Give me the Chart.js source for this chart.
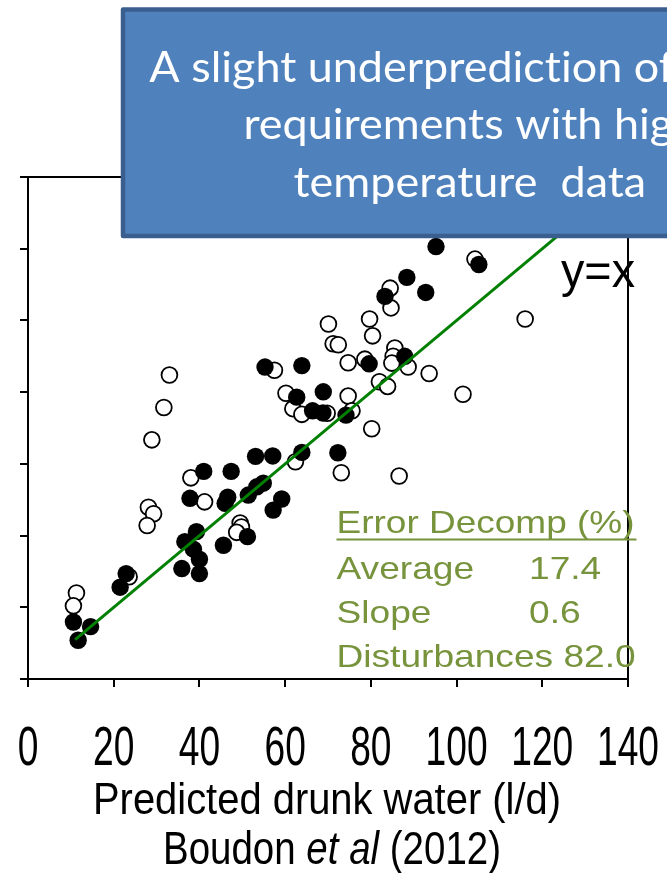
<!DOCTYPE html>
<html>
<head>
<meta charset="utf-8">
<script src="https://cdn.jsdelivr.net/npm/chart.js@4.4.0/dist/chart.umd.min.js"></script>
<style>
  html, body { margin: 0; padding: 0; background: #ffffff; }
  #wrap { width: 667px; height: 873px; position: relative; overflow: hidden; }
  canvas { display: block; }
</style>
</head>
<body>
<div id="wrap"><canvas id="chart" width="667" height="873"></canvas></div>
<script>
// Axis ticks (drunk water, l/d)
const xTicks = [0, 20, 40, 60, 80, 100, 120, 140];
const yTicks = [0, 20, 40, 60, 80, 100, 120, 140];

// Predicted (x) vs observed (y) drunk water, filled markers
const filledX = [11.7, 10.6, 14.6, 21.5, 22.9, 35.9, 40.0, 40.0, 36.6, 39.3, 38.6, 45.6, 51.2, 37.8,
                 46.6, 46.0, 41.0, 47.4, 51.4, 53.1, 53.4, 57.1, 54.9, 57.2, 59.2, 63.9, 72.3, 55.3,
                 63.9, 62.7, 68.9, 66.4, 68.8, 74.2, 79.6, 87.9, 83.3, 88.4, 92.8, 95.2, 105.2];
const filledY = [10.8, 15.9, 14.6, 25.6, 29.4, 30.8, 29.4, 33.4, 38.3, 41.1, 36.2, 37.3, 39.7, 50.4,
                 50.7, 49.0, 57.9, 57.9, 51.3, 62.1, 53.6, 62.2, 54.6, 47.1, 50.2, 63.2, 63.1, 87.0,
                 87.4, 78.6, 80.1, 74.8, 74.2, 73.6, 87.9, 90.0, 106.7, 112.0, 107.8, 120.6, 115.6];

// Predicted (x) vs observed (y) drunk water, open markers
const openX = [11.3, 10.6, 23.6, 28.1, 29.3, 27.8, 28.9, 38.0, 41.2, 49.5, 49.8, 48.7, 62.4, 73.1,
               86.6, 70.1, 71.2, 72.4, 33.0, 31.7, 57.5, 60.2, 61.8, 63.9, 69.8, 74.7, 78.6, 79.7,
               80.4, 84.5, 84.7, 85.6, 85.2, 84.9, 88.7, 93.6, 101.5, 82.0, 83.9, 74.7, 75.6, 80.2,
               104.3, 116.0];
const openY = [24.0, 20.4, 28.5, 47.9, 46.1, 42.8, 66.7, 56.1, 49.4, 43.5, 42.4, 40.9, 60.6, 57.5,
               56.6, 99.0, 93.5, 93.2, 84.8, 75.7, 86.1, 79.7, 75.4, 73.8, 74.1, 88.2, 89.2, 100.4,
               95.7, 109.0, 103.5, 92.3, 90.0, 88.1, 87.0, 85.2, 79.4, 82.9, 81.6, 78.9, 74.8, 69.8,
               117.1, 100.4];

// End points of the y = x reference line
const lineX = [11, 130];
const lineY = [11, 130];

// Error decomposition (%)
const decompLabels = ['Average', 'Slope', 'Disturbances'];
const decompValues = ['17.4', '0.6', '82.0'];

const FONT_NARROW = '"Liberation Sans Narrow", "Arial Narrow", "Liberation Sans", Arial, sans-serif';
const FONT_SANS = '"Liberation Sans", Arial, sans-serif';
const FONT_BOX = 'Lato, Carlito, Calibri, "Open Sans", sans-serif';
const OLIVE = '#77933c';

const toPoints = (xs, ys) => xs.map((x, i) => ({ x: x, y: ys[i] }));

// Draws a run of text pieces, squeezed or stretched horizontally
// to a target width (or by a given factor).
function drawRun(ctx, parts, x, y, color, align, width, factor) {
  ctx.save();
  if ('textRendering' in ctx) ctx.textRendering = 'optimizeSpeed';
  let total = 0;
  for (const p of parts) { ctx.font = p.font; p.w = ctx.measureText(p.text).width; total += p.w; }
  const sx = width ? width / total : (factor || 1);
  const w = total * sx;
  const start = align === 'center' ? x - w / 2 : (align === 'right' ? x - w : x);
  ctx.translate(start, y);
  ctx.scale(sx, 1);
  ctx.fillStyle = color;
  ctx.textAlign = 'left';
  ctx.textBaseline = 'alphabetic';
  let cx = 0;
  for (const p of parts) { ctx.font = p.font; ctx.fillText(p.text, cx, 0); cx += p.w; }
  ctx.restore();
  return w;
}

const framePlugin = {
  id: 'frame',
  beforeDatasetsDraw(chart) {
    const { ctx, chartArea: a } = chart;
    ctx.save();
    ctx.strokeStyle = '#000';
    ctx.lineWidth = 2;
    ctx.beginPath();
    ctx.moveTo(a.left, a.top);
    ctx.lineTo(a.right, a.top);
    ctx.lineTo(a.right, a.bottom);
    ctx.stroke();
    ctx.restore();
  }
};

const textPlugin = {
  id: 'texts',
  afterDraw(chart) {
    const ctx = chart.ctx;
    const xs = chart.scales.x;

    // x tick labels
    const tickFont = '55px ' + FONT_NARROW;
    ctx.font = tickFont;
    const tickFactor = 62 / ctx.measureText('140').width;
    xs.ticks.forEach(t => {
      drawRun(ctx, [{ text: String(t.value), font: tickFont }], xs.getPixelForValue(t.value), 765, '#000', 'center', null, tickFactor);
    });

    // axis title
    const cx = (chart.chartArea.left + chart.chartArea.right) / 2;
    drawRun(ctx, [{ text: 'Predicted drunk water (l/d)', font: '45px ' + FONT_NARROW }], cx - 1, 814, '#000', 'center', 468);
    drawRun(ctx, [
      { text: 'Boudon ', font: '47px ' + FONT_NARROW },
      { text: 'et al', font: 'italic 47px ' + FONT_NARROW },
      { text: ' (2012)', font: '47px ' + FONT_NARROW }
    ], cx + 4, 864, '#000', 'center', 338);

    // y = x label
    drawRun(ctx, [{ text: 'y=x', font: '48px ' + FONT_NARROW }], 561, 287, '#000', 'left', 74);

    // error decomposition
    const dFont = '32px ' + FONT_SANS;
    const dx = 336.5, valX = 529;
    const hw = drawRun(ctx, [{ text: 'Error Decomp (%)', font: dFont }], dx, 533, OLIVE, 'left', 298);
    ctx.save();
    ctx.strokeStyle = OLIVE;
    ctx.lineWidth = 2;
    ctx.beginPath();
    ctx.moveTo(dx, 539.5);
    ctx.lineTo(dx + hw + 2, 539.5);
    ctx.stroke();
    ctx.restore();
    const f = 1.16;
    drawRun(ctx, [{ text: decompLabels[0], font: dFont }], dx, 579, OLIVE, 'left', null, f);
    drawRun(ctx, [{ text: decompValues[0], font: dFont }], valX, 579, OLIVE, 'left', null, f);
    drawRun(ctx, [{ text: decompLabels[1], font: dFont }], dx, 623, OLIVE, 'left', null, f);
    drawRun(ctx, [{ text: decompValues[1], font: dFont }], valX, 623, OLIVE, 'left', null, f);
    drawRun(ctx, [{ text: decompLabels[2] + ' ' + decompValues[2], font: dFont }], dx, 667, OLIVE, 'left', null, f);

    // call-out box
    ctx.save();
    ctx.fillStyle = '#4f81bd';
    ctx.strokeStyle = '#3a5f8e';
    ctx.lineWidth = 4.5;
    ctx.lineJoin = 'round';
    ctx.beginPath();
    ctx.rect(123, 9.5, 700, 226.5);
    ctx.fill();
    ctx.stroke();
    ctx.restore();

    const bFont = '42px ' + FONT_BOX;
    ctx.font = bFont;
    const boxFactor = 352.5 / ctx.measureText('temperature  data').width;
    drawRun(ctx, [{ text: 'A slight underprediction of', font: bFont }], 149.3, 82, '#ffffff', 'left', null, boxFactor);
    drawRun(ctx, [{ text: 'requirements with high', font: bFont }], 243.4, 138.5, '#ffffff', 'left', null, boxFactor);
    drawRun(ctx, [{ text: 'temperature  data', font: bFont }], 293.6, 196.5, '#ffffff', 'left', null, boxFactor);
  }
};

const axisCommon = {
  type: 'linear',
  min: 0,
  max: 140,
  ticks: { display: false, stepSize: 20 },
  grid: { display: true, drawOnChartArea: false, drawTicks: true, tickLength: 8, color: '#000', lineWidth: 2 },
  border: { display: true, color: '#000', width: 2 }
};

new Chart(document.getElementById('chart'), {
  type: 'scatter',
  data: {
    datasets: [
      {
        type: 'line',
        label: 'y=x',
        data: toPoints(lineX, lineY),
        borderColor: '#008000',
        borderWidth: 3,
        pointRadius: 0,
        fill: false,
        order: 0
      },
      {
        label: 'filled',
        data: toPoints(filledX, filledY),
        backgroundColor: '#000000',
        borderColor: '#000000',
        borderWidth: 0,
        pointRadius: 8.7,
        order: 1
      },
      {
        label: 'open',
        data: toPoints(openX, openY),
        backgroundColor: '#ffffff',
        borderColor: '#000000',
        borderWidth: 1.8,
        pointRadius: 7.9,
        order: 2
      }
    ]
  },
  options: {
    responsive: false,
    animation: false,
    devicePixelRatio: 1,
    layout: { padding: { left: 20, top: 177, right: 39, bottom: 186 } },
    plugins: { legend: { display: false }, tooltip: { enabled: false } },
    scales: {
      x: Object.assign({}, axisCommon, {
        position: 'bottom',
        afterBuildTicks: s => { s.ticks = xTicks.map(v => ({ value: v })); }
      }),
      y: Object.assign({}, axisCommon, {
        position: 'left',
        afterBuildTicks: s => { s.ticks = yTicks.map(v => ({ value: v })); }
      })
    }
  },
  plugins: [framePlugin, textPlugin]
});
</script>
</body>
</html>
